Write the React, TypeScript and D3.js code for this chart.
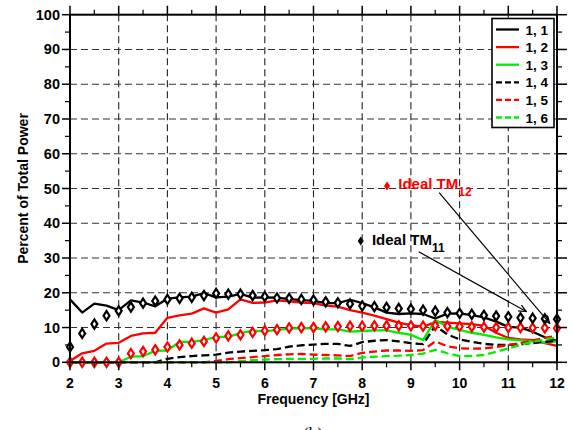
import React from 'react';
import * as d3 from 'd3';

const FREQ = [2, 2.25, 2.5, 2.75, 3, 3.25, 3.5, 3.75, 4, 4.25, 4.5, 4.75, 5, 5.25, 5.5, 5.75, 6, 6.25, 6.5, 6.75, 7, 7.25, 7.5, 7.75, 8, 8.25, 8.5, 8.75, 9, 9.25, 9.5, 9.75, 10, 10.25, 10.5, 10.75, 11, 11.25, 11.5, 11.75, 12];

const IDEAL_TM11 = [4.4, 8.3, 11.0, 13.4, 14.8, 15.9, 17.0, 17.6, 18.1, 18.4, 18.7, 19.2, 19.8, 19.6, 19.6, 19.2, 18.9, 18.5, 18.4, 18.1, 17.9, 17.4, 17.1, 16.8, 16.2, 16.0, 15.8, 15.5, 15.3, 15.0, 14.7, 14.3, 14.1, 13.8, 13.5, 13.3, 13.1, 12.8, 12.7, 12.5, 12.4];
const IDEAL_TM12 = [0, 0, 0, 0, 0, 2.5, 3.1, 3.6, 4.4, 5.0, 5.5, 6.0, 7.0, 7.6, 7.9, 8.6, 9.1, 9.4, 9.9, 10.0, 10.0, 10.2, 10.3, 10.4, 10.4, 10.5, 10.5, 10.5, 10.5, 10.4, 10.6, 10.4, 10.3, 10.2, 10.1, 10.0, 10.0, 10.0, 9.9, 9.9, 9.8];

const S11 = [18.1, 14.3, 16.9, 16.3, 15.0, 17.8, 17.2, 16.1, 18.3, 18.7, 18.9, 19.9, 18.7, 18.9, 19.7, 18.6, 18.7, 18.6, 18.2, 17.9, 17.7, 17.0, 17.0, 18.0, 17.0, 15.8, 14.3, 13.9, 14.1, 13.9, 12.6, 14.0, 14.1, 13.6, 12.9, 11.7, 10.2, 10.0, 8.8, 7.2, 6.2];
const S12 = [0.4, 2.6, 3.3, 5.4, 5.6, 7.6, 8.3, 8.5, 12.8, 13.5, 14.0, 15.5, 14.3, 15.2, 18.1, 17.1, 17.2, 17.8, 17.5, 17.2, 17.0, 16.3, 16.0, 15.0, 14.3, 13.4, 12.4, 11.4, 10.7, 10.2, 11.6, 11.4, 11.2, 11.0, 10.5, 8.5, 7.0, 6.6, 6.4, 5.5, 4.7];
const S13 = [0, 0, 0, 0, 0, 1.6, 1.8, 3.3, 3.4, 5.9, 5.9, 6.4, 7.3, 7.3, 8.4, 9.1, 8.9, 9.3, 9.7, 9.8, 9.8, 9.5, 9.5, 8.8, 9.0, 9.2, 9.2, 8.5, 7.9, 6.4, 12.2, 10.2, 9.3, 8.5, 7.9, 7.2, 6.6, 6.3, 6.0, 5.7, 6.0];
const S14 = [0, 0, 0, 0, 0, 0, 0, 0, 1.0, 1.5, 1.8, 2.0, 2.2, 2.8, 3.1, 3.3, 3.5, 3.8, 4.5, 4.9, 5.1, 5.3, 5.3, 4.7, 5.8, 6.2, 6.4, 6.0, 5.5, 5.2, 10.5, 8.0, 6.6, 5.9, 5.3, 5.0, 5.0, 5.2, 5.5, 5.9, 6.2];
const S15 = [0, 0, 0, 0, 0, 0, 0, 0, 0, 0, 0, 0, 0.4, 0.9, 1.2, 1.5, 1.8, 2.1, 2.3, 2.4, 2.2, 2.1, 2.0, 1.8, 2.7, 3.1, 3.4, 3.4, 3.3, 3.5, 6.0, 4.6, 4.0, 3.9, 4.0, 4.4, 5.0, 5.5, 6.3, 7.0, 7.6];
const S16 = [0, 0, 0, 0, 0, 0, 0, 0, 0, 0, 0, 0, 0, 0, 0.3, 0.6, 0.8, 0.9, 1.0, 1.0, 1.0, 1.1, 1.1, 0.9, 1.4, 1.6, 1.8, 1.9, 2.1, 2.5, 3.6, 2.6, 1.8, 1.8, 2.1, 3.0, 4.0, 5.0, 5.8, 6.6, 7.2];

const SERIES_NAMES = ['1, 1', '1, 2', '1, 3', '1, 4', '1, 5', '1, 6'];
const SERIES_VALUES = [S11, S12, S13, S14, S15, S16];
const SERIES_COLORS = ['#000000', '#ff0000', '#00ee00', '#000000', '#ff0000', '#00ee00'];
const SERIES_DASHED = [false, false, false, true, true, true];

const X_TICKS = [2, 3, 4, 5, 6, 7, 8, 9, 10, 11, 12];
const Y_TICKS = [0, 10, 20, 30, 40, 50, 60, 70, 80, 90, 100];
const X_MINOR = [2.5, 3.5, 4.5, 5.5, 6.5, 7.5, 8.5, 9.5, 10.5, 11.5];
const Y_MINOR = [5, 15, 25, 35, 45, 55, 65, 75, 85, 95];

// annotation anchors in data units
const ANN_TM12 = { marker: [8.51, 50.7], text: [8.74, 49.8], from: [9.58, 48.8], to: [11.85, 11.2] };
const ANN_TM11 = { marker: [7.97, 34.9], text: [8.2, 33.7], from: [9.16, 31.8], to: [11.37, 14.6] };

const FONT = "'Liberation Sans', Arial, Helvetica, sans-serif";

function diamond(w: number, h: number) {
  return `M0,${-h}L${w},0L0,${h}L${-w},0Z`;
}

export default function App() {
  const W = 573, H = 430;
  const x = d3.scaleLinear().domain([2, 12]).range([70, 557]);
  const y = d3.scaleLinear().domain([0, 100]).range([362.3, 14.7]);
  const line = d3.line<number>().x((_, i) => x(FREQ[i])).y((v) => y(v));
  const [x0, x1] = x.range();
  const [y0, y1] = y.range();

  const legX = 492, legY = 18.5, legW = 62, legH = 109;

  return (
    <svg width={W} height={H} style={{ position: 'absolute', left: 0, top: 0, background: '#fff' }} fontFamily={FONT}>
      <defs>
        <marker id="arr" viewBox="0 0 10 10" refX="9" refY="5" markerWidth="7" markerHeight="7" orient="auto">
          <path d="M0,1 L9,5 L0,9" fill="none" stroke="#000" strokeWidth="1.5" />
        </marker>
      </defs>
      {/* grid */}
      {X_TICKS.slice(1, -1).map((t) => (
        <line key={'gx' + t} x1={x(t)} x2={x(t)} y1={y0} y2={y1} stroke="#222" strokeWidth={1.1} strokeDasharray="7,4" />
      ))}
      {Y_TICKS.slice(1, -1).map((t) => (
        <line key={'gy' + t} x1={x0} x2={x1} y1={y(t)} y2={y(t)} stroke="#333" strokeWidth={1.1} strokeDasharray="7,4" />
      ))}
      {/* series lines */}
      {SERIES_VALUES.map((vals, i) => (
        <path key={'s' + i} d={line(vals) || ''} fill="none" stroke={SERIES_COLORS[i]} strokeWidth={2.3}
          strokeDasharray={SERIES_DASHED[i] ? '8,4' : undefined} strokeLinejoin="round" />
      ))}
      {/* ideal markers */}
      {IDEAL_TM12.map((v, i) => (
        <path key={'m12' + i} d={diamond(3, 4.6)} transform={`translate(${x(FREQ[i])},${y(v)})`} fill="#fff" stroke="#ff0000" strokeWidth={2.2} />
      ))}
      {IDEAL_TM11.map((v, i) => (
        <path key={'m11' + i} d={diamond(3, 4.6)} transform={`translate(${x(FREQ[i])},${y(v)})`} fill="#fff" stroke="#000" strokeWidth={2.2} />
      ))}
      {/* frame */}
      <rect x={x0} y={y1} width={x1 - x0} height={y0 - y1} fill="none" stroke="#000" strokeWidth={2} />
      {/* ticks */}
      {X_TICKS.map((t) => (
        <g key={'tx' + t}>
          <line x1={x(t)} x2={x(t)} y1={y0} y2={y0 + 8} stroke="#000" strokeWidth={1.5} />
          <line x1={x(t)} x2={x(t)} y1={y1} y2={y1 - 9} stroke="#000" strokeWidth={1.5} />
          <text x={x(t)} y={387.5} textAnchor="middle" fontSize={14} fontWeight="bold">{t}</text>
        </g>
      ))}
      {X_MINOR.map((t) => (
        <g key={'mx' + t}>
          <line x1={x(t)} x2={x(t)} y1={y0} y2={y0 + 5} stroke="#000" strokeWidth={1.2} />
          <line x1={x(t)} x2={x(t)} y1={y1} y2={y1 - 5} stroke="#000" strokeWidth={1.2} />
        </g>
      ))}
      {Y_TICKS.map((t) => (
        <g key={'ty' + t}>
          <line x1={x0} x2={x0 - 8} y1={y(t)} y2={y(t)} stroke="#000" strokeWidth={1.5} />
          <line x1={x1} x2={x1 + 10} y1={y(t)} y2={y(t)} stroke="#000" strokeWidth={1.5} />
          <text x={60} y={y(t) + 5} textAnchor="end" fontSize={14.5} fontWeight="bold">{t}</text>
        </g>
      ))}
      {Y_MINOR.map((t) => (
        <g key={'my' + t}>
          <line x1={x0} x2={x0 - 5} y1={y(t)} y2={y(t)} stroke="#000" strokeWidth={1.2} />
          <line x1={x1} x2={x1 + 5} y1={y(t)} y2={y(t)} stroke="#000" strokeWidth={1.2} />
        </g>
      ))}
      {/* axis titles */}
      <text x={(x0 + x1) / 2} y={403.5} textAnchor="middle" fontSize={14} fontWeight="bold">Frequency [GHz]</text>
      <text transform={`translate(28,${(y0 + y1) / 2}) rotate(-90)`} textAnchor="middle" fontSize={14} fontWeight="bold">Percent of Total Power</text>
      <text x={313} y={439} textAnchor="middle" fontSize={17} fontFamily="'Liberation Serif', 'Times New Roman', serif">(b)</text>
      {/* annotations */}
      <path d={diamond(3, 4.5)} transform={`translate(${x(ANN_TM12.marker[0])},${y(ANN_TM12.marker[1])})`} fill="#ff0000" />
      <text x={x(ANN_TM12.text[0])} y={y(ANN_TM12.text[1])} fontSize={15} fontWeight="bold" fill="#ff0000">
        Ideal TM<tspan dy={7} fontSize={12}>12</tspan>
      </text>
      <path d={diamond(3, 4.5)} transform={`translate(${x(ANN_TM11.marker[0])},${y(ANN_TM11.marker[1])})`} fill="#000" />
      <text x={x(ANN_TM11.text[0])} y={y(ANN_TM11.text[1])} fontSize={15} fontWeight="bold" fill="#000">
        Ideal TM<tspan dy={7} fontSize={12}>11</tspan>
      </text>
      <line x1={x(ANN_TM12.from[0])} y1={y(ANN_TM12.from[1])} x2={x(ANN_TM12.to[0])} y2={y(ANN_TM12.to[1])} stroke="#000" strokeWidth={1.2} markerEnd="url(#arr)" />
      <line x1={x(ANN_TM11.from[0])} y1={y(ANN_TM11.from[1])} x2={x(ANN_TM11.to[0])} y2={y(ANN_TM11.to[1])} stroke="#000" strokeWidth={1.2} markerEnd="url(#arr)" />
      {/* legend */}
      <rect x={legX} y={legY} width={legW} height={legH} fill="#fff" stroke="#000" strokeWidth={1.6} />
      {SERIES_NAMES.map((n, i) => {
        const ry = legY + 11 + i * 17.6;
        return (
          <g key={'lg' + i}>
            <line x1={legX + 4} x2={legX + 27} y1={ry} y2={ry} stroke={SERIES_COLORS[i]} strokeWidth={2.3}
              strokeDasharray={SERIES_DASHED[i] ? '6,3' : undefined} />
            <text x={legX + 33.5} y={ry + 5} fontSize={13.5} fontWeight="bold">{n}</text>
          </g>
        );
      })}
    </svg>
  );
}
